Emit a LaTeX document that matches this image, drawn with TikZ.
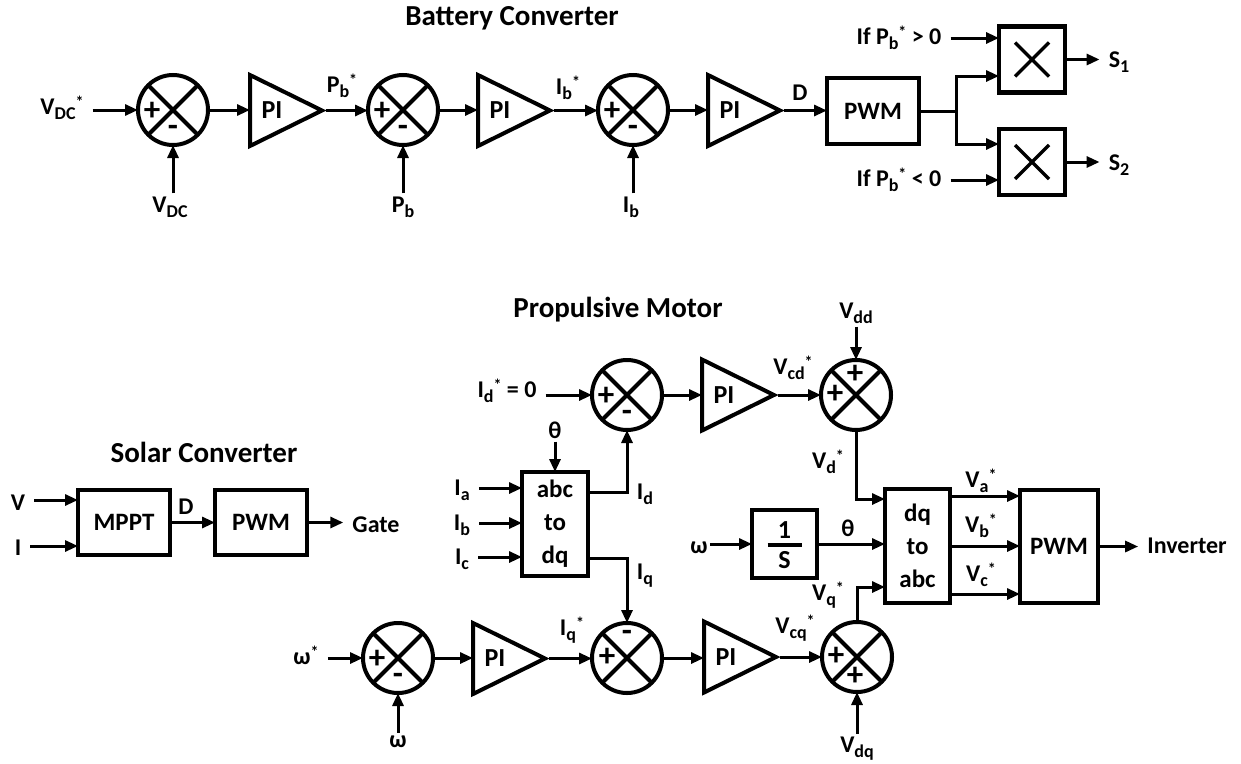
\documentclass[tikz,border=0pt]{standalone}
\usepackage{fontspec}
\setmainfont{Carlito}
\usetikzlibrary{arrows.meta,calc}
\newcommand\mysub[1]{\raisebox{-5pt}{\fontsize{18}{18}\selectfont #1}}
\newcommand\mystar{\raisebox{7pt}{\fontsize{16}{16}\selectfont *}}
\tikzset{
 blk/.style={line width=4pt},
 arr/.style={line width=3pt, -{Triangle[length=13pt,width=11pt]}},
 ln/.style={line width=3pt},
 sumc/.style={circle, draw, line width=4pt, minimum size=70pt, inner sep=0pt, outer sep=0pt},
 blockbox/.style={draw, line width=4pt, inner sep=0pt, outer sep=0pt, font=\bfseries\fontsize{25}{33}\selectfont, align=center},
 pib/.style={inner sep=0pt, outer sep=0pt, minimum width=72pt, minimum height=71pt},
 lbl/.style={font=\bfseries\fontsize{24}{28}\selectfont, inner xsep=9pt, inner ysep=3pt},
 ttl/.style={font=\bfseries\fontsize{29}{34}\selectfont},
 sgn/.style={font=\bfseries\fontsize{33}{33}\selectfont, inner sep=0pt},
 xln/.style={line width=3.5pt},
}
\newcommand\mksum[2]{%
 \node[sumc] (#1) at (#2) {};
 \draw[blk] (#1.north west) -- (#1.south east) (#1.north east) -- (#1.south west);}
\newcommand\mkpi[2]{%
 \node[pib] (#1) at (#2) {};
 \draw[blk] (#1.north west) -- (#1.east) -- (#1.south west) -- cycle;
 \node[lbl, font=\bfseries\fontsize{26}{28}\selectfont, inner sep=0pt] (#1t) at ($(#1.west)+(22,0)$) {PI};}
\newcommand\mkmult[2]{%
 \node[blockbox, line width=4.5pt, minimum width=66pt, minimum height=66pt] (#1) at (#2) {};
 \draw[xln] ($(#1.center)+(-17,-17)$) -- ($(#1.center)+(17,17)$) ($(#1.center)+(17,-17)$) -- ($(#1.center)+(-17,17)$);}
\begin{document}
\begin{tikzpicture}[x=1pt,y=-1pt]
\useasboundingbox (0,0) rectangle (1241,763);
% ---------------- Battery converter
\node[ttl] (t1) at (512,18) {Battery Converter};
\node[lbl] (vdcs) at (62,108) {V\mysub{DC}\mystar};
\mksum{s1}{173,110}
\node[sgn] (s1p) at ($(s1)+(-21,1)$) {+};
\node[sgn] (s1m) at ($(s1)+(0,21)$) {-};
\draw[arr] (s1.west -| vdcs.east) -- (s1.west);
\node[lbl] (vdc) at (170,207) {V\mysub{DC}};
\draw[arr] (s1.south |- vdc.north) -- (s1.south);
\mkpi{p1}{286,110.5}
\draw[arr] (s1.east) -- (s1.east -| p1.west);
\node[lbl] (pbs) at (342,86) {P\mysub{b}\mystar};
\mksum{s2}{403,110}
\node[sgn] (s2p) at ($(s2)+(-21,1)$) {+};
\node[sgn] (s2m) at ($(s2)+(0,21)$) {-};
\draw[arr, shorten <=4pt] (p1.east) -- (p1.east -| s2.west);
\node[lbl] (pb) at (403,207) {P\mysub{b}};
\draw[arr] (s2.south |- pb.north) -- (s2.south);
\mkpi{p2}{514,110.5}
\draw[arr] (s2.east) -- (s2.east -| p2.west);
\node[lbl] (ibs) at (568,88) {I\mysub{b}\mystar};
\mksum{s3}{633,110}
\node[sgn] (s3p) at ($(s3)+(-21,1)$) {+};
\node[sgn] (s3m) at ($(s3)+(0,21)$) {-};
\draw[arr, shorten <=4pt] (p2.east) -- (p2.east -| s3.west);
\node[lbl] (ib) at (631,207) {I\mysub{b}};
\draw[arr] (s3.south |- ib.north) -- (s3.south);
\mkpi{p3}{744,110.5}
\draw[arr] (s3.east) -- (s3.east -| p3.west);
\node[lbl] (d1) at (800,93) {D};
\node[blockbox, minimum width=92pt, minimum height=66pt] (pwm1) at (873,111) {PWM};
\draw[arr, shorten <=4pt] (p3.east) -- (p3.east -| pwm1.west);
\mkmult{m1}{1032,59.5}
\mkmult{m2}{1032,162}
\coordinate (br) at (956,111);
\draw[ln] (pwm1.east) -- (br);
\draw[arr] (br) |- ($(m1.west)+(0,16.5)$);
\draw[arr] (br) |- ($(m2.west)+(0,-18)$);
\node[lbl] (ifp) at (899,38) {If P\mysub{b}\mystar{} > 0};
\node[lbl] (ifn) at (899,180) {If P\mysub{b}\mystar{} < 0};
\coordinate (m1a) at ($(m1.west)+(0,-21.5)$);
\coordinate (m2a) at ($(m2.west)+(0,18)$);
\draw[arr] (m1a -| ifp.east) -- (m1a);
\draw[arr] (m2a -| ifn.east) -- (m2a);
\node[lbl] (so1) at (1119,62) {S\mysub{1}};
\node[lbl] (so2) at (1119,165) {S\mysub{2}};
\draw[arr] (m1.east) -- (m1.east -| so1.west);
\draw[arr] (m2.east) -- (m2.east -| so2.west);
% ---------------- Solar converter
\node[ttl] (t2) at (204,452) {Solar Converter};
\node[blockbox, minimum width=92pt, minimum height=65pt] (mppt) at (124,522.5) {MPPT};
\node[blockbox, minimum width=92pt, minimum height=65pt] (pwm0) at (261,522.5) {PWM};
\node[lbl] (vin) at (18,503) {V};
\node[lbl] (iin) at (18,548) {I};
\coordinate (mv) at ($(mppt.west)+(0,-22.5)$);
\coordinate (mi) at ($(mppt.west)+(0,23.5)$);
\draw[arr] (mv -| vin.east) -- (mv);
\draw[arr] (mi -| iin.east) -- (mi);
\node[lbl] (d0) at (186,507) {D};
\draw[arr] (mppt.east) -- (pwm0.west);
\node[lbl] (gate) at (376,525) {Gate};
\draw[arr] (pwm0.east) -- (pwm0.east -| gate.west);
% ---------------- Propulsive motor
\node[ttl] (t3) at (618,310) {Propulsive Motor};
\node[lbl] (ids) at (507,391) {I\mysub{d}\mystar{} = 0};
\mksum{s4}{627,395}
\node[sgn] (s4p) at ($(s4)+(-21,1)$) {+};
\node[sgn] (s4m) at ($(s4)+(0,21)$) {-};
\draw[arr] (s4.west -| ids.east) -- (s4.west);
\mkpi{p4}{738,395}
\draw[arr] (s4.east) -- (s4.east -| p4.west);
\node[lbl] (vcds) at (793,368) {V\mysub{cd}\mystar};
\mksum{s5}{856,395}
\node[sgn] (s5p) at ($(s5)+(-21,-1)$) {+};
\node[sgn] (s5q) at ($(s5)+(-1,-21)$) {+};
\draw[arr, shorten <=4pt] (p4.east) -- (p4.east -| s5.west);
\node[lbl] (vdd) at (856,313) {V\mysub{dd}};
\draw[arr] (s5.north |- vdd.south) -- (s5.north);
% abc to dq
\node[blockbox, minimum width=66pt, minimum height=104pt] (abcdq) at (555,524) {abc\\to\\dq};
\node[lbl] (th1) at (555,430) {θ};
\draw[arr] (th1.south) -- (abcdq.north);
\node[lbl] (ia) at (462,490) {I\mysub{a}};
\node[lbl] (ib2) at (462,525) {I\mysub{b}};
\node[lbl] (ic) at (462,559) {I\mysub{c}};
\coordinate (ca) at ($(abcdq.west)+(0,-36)$);
\coordinate (cb) at ($(abcdq.west)+(0,-1)$);
\coordinate (cc) at ($(abcdq.west)+(0,33)$);
\draw[arr] (ca -| ia.east) -- (ca);
\draw[arr] (cb -| ib2.east) -- (cb);
\draw[arr] (cc -| ic.east) -- (cc);
\coordinate (idq) at ($(abcdq.east)+(0,-32)$);
\coordinate (iqq) at ($(abcdq.east)+(0,34)$);
\draw[arr] (idq) -| (s4.south);
\node[lbl] (idl) at (645,494) {I\mysub{d}};
% integrator and dq to abc
\node[blockbox, minimum width=65pt, minimum height=68pt] (intg) at (784.5,544) {};
\node[lbl, inner sep=0pt, font=\bfseries\fontsize{26}{28}\selectfont] (one) at (784.5,530) {1};
\node[lbl, inner sep=0pt, font=\bfseries\fontsize{26}{28}\selectfont] (ess) at (784.5,560) {S};
\draw[line width=3.5pt] (767.5,545) -- (801.5,545);
\node[lbl, inner xsep=2pt] (om1) at (699,548) {ω};
\draw[arr] (intg.west -| om1.east) -- (intg.west);
\node[blockbox, minimum width=65pt, minimum height=114pt] (dqabc) at (917.5,546) {dq\\to\\abc};
\node[lbl] (th2) at (848,528) {θ};
\draw[arr] (intg.east) -- (intg.east -| dqabc.west);
\draw[arr] (s5.south) |- ($(dqabc.west)+(0,-47)$);
\node[lbl] (vds) at (828,462) {V\mysub{d}\mystar};
\node[blockbox, minimum width=78pt, minimum height=113pt] (pwm2) at (1059,546.5) {PWM};
\coordinate (oa) at ($(dqabc.east)+(0,-50)$);
\coordinate (ob) at ($(dqabc.east)+(0,0)$);
\coordinate (oc) at ($(dqabc.east)+(0,48)$);
\draw[arr] (oa) -- (oa -| pwm2.west);
\draw[arr] (ob) -- (ob -| pwm2.west);
\draw[arr] (oc) -- (oc -| pwm2.west);
\node[lbl] (vas) at (981,481) {V\mysub{a}\mystar};
\node[lbl] (vbs) at (981,526) {V\mysub{b}\mystar};
\node[lbl] (vcs) at (981,575) {V\mysub{c}\mystar};
\node[lbl] (inv) at (1187,546) {Inverter};
\draw[arr] (pwm2.east) -- (pwm2.east -| inv.west);
% lower row
\node[lbl] (oms) at (306,655) {ω\mystar};
\mksum{s7}{398,658}
\node[sgn] (s7p) at ($(s7)+(-21,1)$) {+};
\node[sgn] (s7m) at ($(s7)+(0,21)$) {-};
\draw[arr] (s7.west -| oms.east) -- (s7.west);
\node[lbl] (om2) at (398,742) {ω};
\draw[arr] (s7.south |- om2.north) -- (s7.south);
\mkpi{p5}{509,658.5}
\draw[arr] (s7.east) -- (s7.east -| p5.west);
\node[lbl] (iqs) at (572,630) {I\mysub{q}\mystar};
\mksum{s8}{627,658}
\node[sgn] (s8p) at ($(s8)+(-20,-1)$) {+};
\node[sgn] (s8m) at ($(s8)+(0,-22)$) {-};
\draw[arr, shorten <=4pt] (p5.east) -- (p5.east -| s8.west);
\draw[arr] (iqq) -| (s8.north);
\node[lbl] (iql) at (645,576) {I\mysub{q}};
\mkpi{p6}{740,657}
\draw[arr] (s8.east) -- (s8.east -| p6.west);
\node[lbl] (vcqs) at (795,628) {V\mysub{cq}\mystar};
\mksum{s9}{857,657}
\node[sgn] (s9p) at ($(s9)+(-21,-1)$) {+};
\node[sgn] (s9q) at ($(s9)+(-2,19)$) {+};
\draw[arr, shorten <=4pt] (p6.east) -- (p6.east -| s9.west);
\node[lbl] (vdq) at (857,749) {V\mysub{dq}};
\draw[arr] (s9.south |- vdq.north) -- (s9.south);
\draw[arr] (s9.north) |- ($(dqabc.west)+(0,41)$);
\node[lbl] (vqs) at (828,595) {V\mysub{q}\mystar};
\end{tikzpicture}
\end{document}
